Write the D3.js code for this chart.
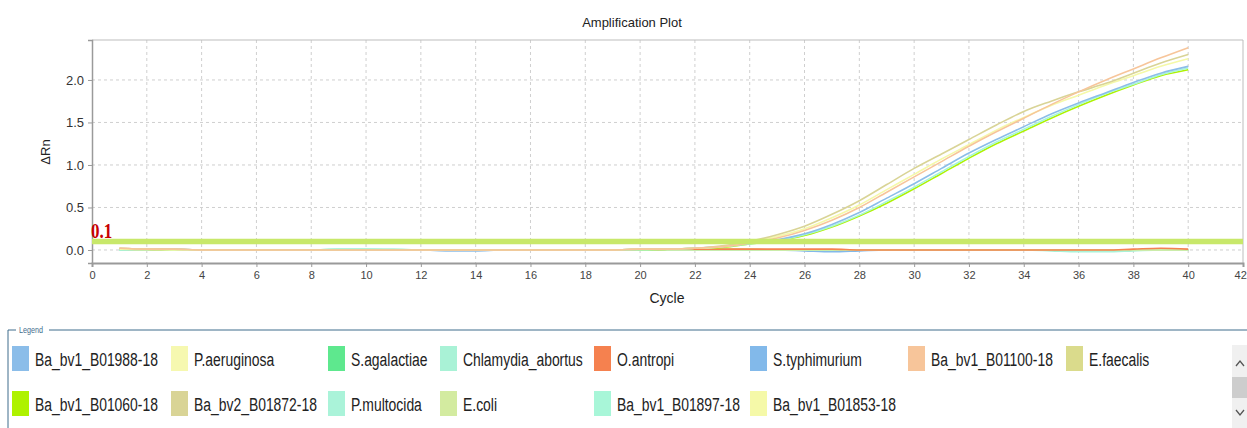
<!DOCTYPE html>
<html>
<head>
<meta charset="utf-8">
<script src="https://cdn.jsdelivr.net/npm/d3@7"></script>
<style>
  body { margin: 0; background: #fff; }
  svg { display: block; font-family: "Liberation Sans", Arial, sans-serif; }
</style>
</head>
<body>
<svg id="chart" width="1247" height="428"></svg>
<script>
// cycles 1..40
var cycles = [1,2,3,4,5,6,7,8,9,10,11,12,13,14,15,16,17,18,19,20,
              21,22,23,24,25,26,27,28,29,30,31,32,33,34,35,36,37,38,39,40];

var xTicks = [0,2,4,6,8,10,12,14,16,18,20,22,24,26,28,30,32,34,36,38,40,42];
var yTicks = [0.0, 0.5, 1.0, 1.5, 2.0];
var threshold = 0.1;

// legend order (row 1 then row 2)
var sampleNames = ["Ba_bv1_B01988-18", "P.aeruginosa", "S.agalactiae", "Chlamydia_abortus",
                   "O.antropi", "S.typhimurium", "Ba_bv1_B01100-18", "E.faecalis",
                   "Ba_bv1_B01060-18", "Ba_bv2_B01872-18", "P.multocida", "E.coli",
                   "Ba_bv1_B01897-18", "Ba_bv1_B01853-18"];

var sampleColors = ["#8bbde9", "#f6f8b0", "#5ee88e", "#a9f2d6",
                    "#f5814f", "#82b9ea", "#f7c59a", "#dadb8c",
                    "#aef200", "#d9d496", "#aaf3d9", "#d3eba0",
                    "#a8f6d8", "#f5f9a8"];

// delta Rn per cycle
var rnB01988 = [0.01,0.01,0.01,0.00,0.00,0.00,0.00,0.00,0.00,0.00,0.00,0.00,-0.01,-0.01,0.00,0.00,0.00,0.00,0.00,0.01,
                0.01,0.02,0.04,0.08,0.12,0.19,0.30,0.44,0.61,0.78,0.96,1.14,1.30,1.45,1.60,1.73,1.85,1.97,2.08,2.16];
var rnPaer    = [0.01,0.01,0.00,0.00,0.00,0.00,0.00,0.00,0.00,0.00,0.00,0.00,0.00,0.00,0.00,0.00,0.00,0.00,0.00,0.00,
                0.00,0.00,0.00,0.00,0.00,0.00,0.00,0.00,0.00,0.00,0.00,0.00,0.00,0.00,0.00,0.00,0.00,0.00,0.00,0.00];
var rnSaga    = [0.00,0.00,0.00,0.00,0.00,0.00,0.00,0.00,0.00,0.00,0.00,0.00,0.00,0.00,0.00,0.00,0.00,0.00,0.00,0.00,
                0.00,0.00,0.00,0.00,0.00,0.00,0.00,0.00,0.00,0.00,0.00,0.00,0.00,0.00,0.00,0.00,0.00,0.00,0.00,0.00];
var rnChla    = [0.00,0.00,0.00,0.00,0.00,0.00,0.00,0.00,0.01,0.01,0.01,0.00,0.00,0.00,0.00,0.00,0.00,0.00,0.00,0.00,
                0.00,0.00,0.00,0.00,0.00,0.00,0.00,0.00,0.00,0.00,0.00,0.00,0.00,0.00,-0.01,-0.02,-0.02,-0.01,0.00,0.00];
var rnOant    = [0.01,0.01,0.00,0.00,0.00,0.00,0.00,0.00,0.00,0.00,0.00,0.00,0.00,0.00,0.00,0.00,0.00,0.00,0.00,0.00,
                0.01,0.01,0.01,0.01,0.01,0.01,0.01,0.00,0.00,0.00,0.00,0.00,0.00,0.00,0.00,0.00,0.00,0.01,0.02,0.01];
var rnStyp    = [0.01,0.00,0.00,0.00,0.00,0.00,0.00,0.00,0.00,0.00,0.00,0.00,0.00,0.00,0.00,0.00,0.00,0.00,0.00,0.00,
                0.00,0.00,0.00,0.00,0.00,-0.01,-0.02,-0.01,0.00,0.00,0.00,0.00,0.00,0.00,0.00,0.00,0.00,0.00,0.00,0.00];
var rnB01100  = [0.02,0.01,0.01,0.00,0.00,0.00,0.00,0.00,0.00,0.00,0.00,0.00,0.00,0.00,0.00,0.00,0.00,0.00,0.00,0.01,
                0.01,0.02,0.04,0.08,0.14,0.23,0.35,0.50,0.68,0.86,1.04,1.22,1.39,1.55,1.71,1.86,2.00,2.13,2.26,2.38];
var rnEfae    = [0.02,0.01,0.00,0.00,0.00,0.00,0.00,0.00,0.00,0.00,0.00,0.00,0.00,0.00,0.00,0.00,0.00,0.00,0.00,0.00,
                0.01,0.01,0.01,0.01,0.00,0.00,0.00,0.00,0.00,0.00,0.00,0.00,0.00,0.00,0.00,0.00,0.00,0.00,0.00,0.00];
var rnB01060  = [0.01,0.01,0.00,0.00,0.00,0.00,0.00,0.00,0.00,0.00,0.00,0.00,0.00,0.00,0.00,0.00,0.00,0.00,0.00,0.00,
                0.01,0.02,0.03,0.07,0.11,0.17,0.27,0.40,0.55,0.72,0.90,1.08,1.25,1.40,1.55,1.69,1.82,1.94,2.05,2.12];
var rnB01872  = [0.02,0.01,0.01,0.00,0.00,0.00,0.00,0.00,0.00,0.00,0.00,0.00,0.00,0.00,0.00,0.00,0.00,0.00,0.00,0.01,
                0.01,0.02,0.05,0.10,0.18,0.28,0.42,0.58,0.77,0.96,1.13,1.30,1.47,1.63,1.75,1.86,1.96,2.08,2.20,2.30];
var rnPmul    = [0.00,0.00,0.00,0.00,0.00,0.00,0.00,0.00,0.01,0.01,0.00,0.00,0.00,0.00,0.00,0.00,0.00,0.00,0.00,0.00,
                0.00,0.00,0.00,0.00,0.00,0.00,0.00,0.00,0.00,0.00,0.00,0.00,0.00,0.00,0.00,-0.01,-0.01,0.00,0.00,0.00];
var rnEcol    = [0.01,0.00,0.00,0.00,0.00,0.00,0.00,0.00,0.00,0.00,0.00,0.00,0.00,0.00,0.00,0.00,0.00,0.00,0.00,0.00,
                0.00,0.00,0.00,0.00,0.00,0.00,0.00,0.00,0.00,0.00,0.00,0.00,0.00,0.00,0.00,0.00,0.00,0.00,0.00,0.00];
var rnB01897  = [0.01,0.01,0.00,0.00,0.00,0.00,0.00,0.00,0.00,0.00,0.00,0.00,0.00,0.00,0.00,0.00,0.00,0.00,0.00,0.00,
                0.01,0.02,0.04,0.07,0.11,0.18,0.28,0.41,0.57,0.74,0.92,1.10,1.27,1.42,1.57,1.71,1.84,1.95,2.06,2.14];
var rnB01853  = [0.01,0.01,0.00,0.00,0.00,0.00,0.00,0.00,0.00,0.00,0.00,0.00,0.00,0.00,0.00,0.00,0.00,0.00,0.00,0.01,
                0.01,0.02,0.04,0.09,0.16,0.25,0.38,0.53,0.71,0.89,1.07,1.24,1.41,1.56,1.70,1.82,1.94,2.05,2.16,2.25];

var sampleValues = [rnB01988, rnPaer, rnSaga, rnChla, rnOant, rnStyp, rnB01100, rnEfae,
                    rnB01060, rnB01872, rnPmul, rnEcol, rnB01897, rnB01853];

// flat ones drawn first, amplified ones on top
var drawOrder = [1, 2, 3, 5, 7, 10, 11, 4, 8, 12, 0, 13, 9, 6];

var svg = d3.select("#chart");
var x = d3.scaleLinear().domain([0, 42]).range([92, 1243]);
var y = d3.scaleLinear().domain([-0.153, 2.47]).range([263, 40]);

// title
svg.append("text").attr("x", 632).attr("y", 27).attr("text-anchor", "middle")
    .attr("font-size", 13).attr("fill", "#222").text("Amplification Plot");

// grid
svg.append("g").selectAll("line").data(xTicks.slice(1, -1)).join("line")
    .attr("x1", d => x(d)).attr("x2", d => x(d)).attr("y1", 40).attr("y2", 263)
    .attr("stroke", "#cfcfcf").attr("stroke-dasharray", "3,3");
svg.append("g").selectAll("line").data(yTicks).join("line")
    .attr("x1", 92).attr("x2", 1243).attr("y1", d => y(d)).attr("y2", d => y(d))
    .attr("stroke", "#cfcfcf").attr("stroke-dasharray", "3,3");

// frame
svg.append("line").attr("x1", 92).attr("x2", 1243).attr("y1", 40).attr("y2", 40).attr("stroke", "#bdbdbd");
svg.append("line").attr("x1", 1243).attr("x2", 1243).attr("y1", 40).attr("y2", 263).attr("stroke", "#bdbdbd");

// axes
var xAxis = d3.axisBottom(x).tickValues(xTicks).tickSize(4).tickPadding(4).tickFormat(d3.format("d"));
var gx = svg.append("g").attr("transform", "translate(0,263)").call(xAxis);
gx.select(".domain").attr("stroke", "#9a9a9a").attr("stroke-width", 2);
gx.selectAll(".tick line").attr("stroke", "#9a9a9a");
gx.selectAll("text").attr("font-size", 11).attr("fill", "#444").attr("font-family", "Liberation Sans, Arial, sans-serif");
// last label sits on the edge of the window, as in the original
gx.selectAll(".tick").filter(d => d === 42).select("text").attr("text-anchor", "end").attr("dx", "0.3em");

var yAxis = d3.axisLeft(y).tickValues(yTicks).tickSize(4).tickPadding(4).tickFormat(d3.format(".1f"));
var gy = svg.append("g").attr("transform", "translate(92,0)").call(yAxis);
gy.select(".domain").attr("stroke", "#9a9a9a").attr("stroke-width", 1.5);
gy.selectAll(".tick line").attr("stroke", "#9a9a9a");
gy.selectAll("text").attr("font-size", 13).attr("fill", "#333").attr("font-family", "Liberation Sans, Arial, sans-serif");

// axis titles
svg.append("text").attr("x", 667).attr("y", 303).attr("text-anchor", "middle")
    .attr("font-size", 14).attr("fill", "#222").text("Cycle");
svg.append("text").attr("transform", "translate(50,152) rotate(-90)").attr("text-anchor", "middle")
    .attr("font-size", 13).attr("fill", "#222").text("ΔRn");

// curves
var line = d3.line().x((d, i) => x(cycles[i])).y(d => y(d)).curve(d3.curveMonotoneX);
svg.append("g").selectAll("path").data(drawOrder).join("path")
    .attr("d", k => line(sampleValues[k]))
    .attr("fill", "none")
    .attr("stroke", k => sampleColors[k])
    .attr("stroke-width", 1.6);

// threshold
svg.append("line").attr("x1", 92).attr("x2", 1243).attr("y1", y(threshold)).attr("y2", y(threshold))
    .attr("stroke", "#c8e86a").attr("stroke-width", 5.5);
svg.append("text").attr("transform", "translate(91," + (y(threshold) - 3) + ") scale(0.85,1)")
    .attr("font-family", "Liberation Serif, DejaVu Serif, serif").attr("font-size", 20)
    .attr("font-weight", "bold").attr("fill", "#c80000").text(String(threshold));

// legend frame
var frame = "#3f6d8c";
svg.append("line").attr("x1", 8).attr("x2", 16).attr("y1", 330).attr("y2", 330).attr("stroke", frame);
svg.append("line").attr("x1", 49).attr("x2", 1247).attr("y1", 330).attr("y2", 330).attr("stroke", frame);
svg.append("line").attr("x1", 8).attr("x2", 8).attr("y1", 330).attr("y2", 428).attr("stroke", frame);
svg.append("text").attr("transform", "translate(19,333) scale(0.8,1)").attr("font-size", 9)
    .attr("fill", "#3f6d8c").text("Legend");

// legend items
var colX = [12, 171, 328, 440, 594, 750, 908, 1066];
var rowY = [346, 391];
var item = svg.append("g").selectAll("g").data(sampleNames).join("g")
    .attr("transform", (d, i) => "translate(" + colX[i % 8] + "," + rowY[Math.floor(i / 8)] + ")");
item.append("rect").attr("width", 17).attr("height", 25).attr("fill", (d, i) => sampleColors[i]);
var labels = item.append("text").attr("font-size", 19).attr("fill", "#222").text(d => d);

// squeeze the labels to the condensed look of the original
var refWidth = labels.filter((d, i) => i === 0).node().getComputedTextLength();
var squeeze = 123 / refWidth;
labels.attr("transform", "translate(23,19.5) scale(" + squeeze + ",1)");

// scrollbar
svg.append("rect").attr("x", 1232).attr("y", 345).attr("width", 15).attr("height", 83).attr("fill", "#f0f0f0");
svg.append("rect").attr("x", 1232).attr("y", 377).attr("width", 15).attr("height", 21).attr("fill", "#cdcdcd");
svg.append("path").attr("d", "M1236,366 L1240,361 L1244,366").attr("fill", "none").attr("stroke", "#555").attr("stroke-width", 1.3);
svg.append("path").attr("d", "M1236,410 L1240,415 L1244,410").attr("fill", "none").attr("stroke", "#555").attr("stroke-width", 1.3);
</script>
</body>
</html>
